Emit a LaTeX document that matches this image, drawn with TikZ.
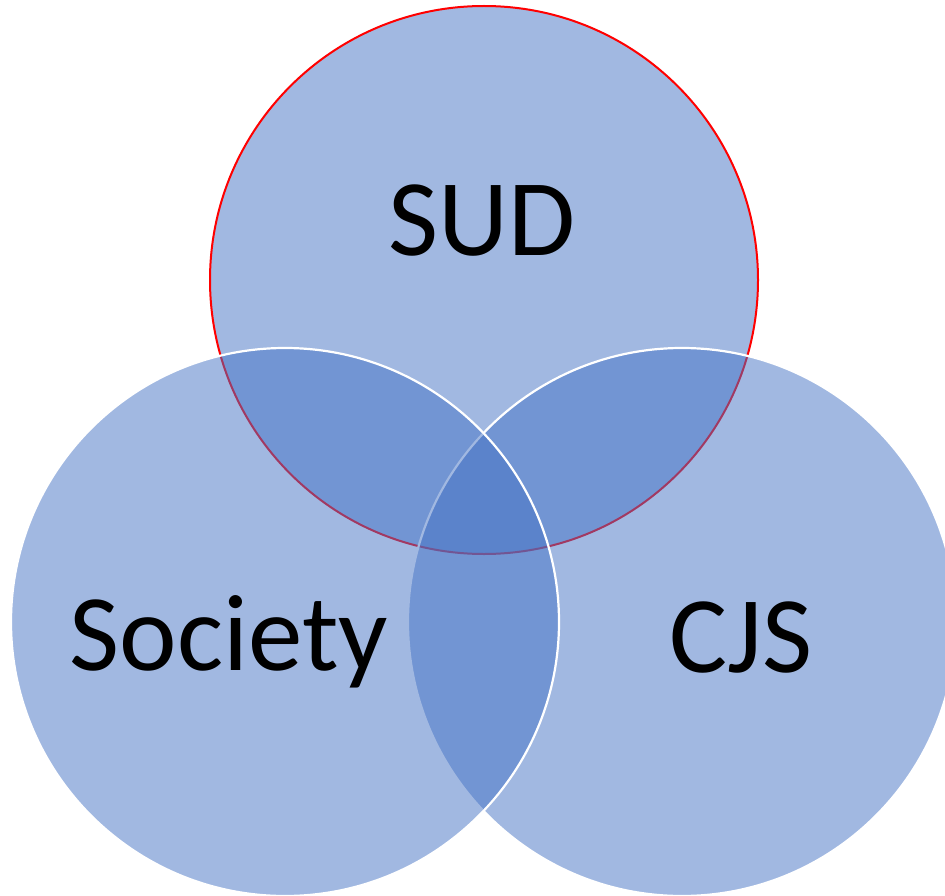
\documentclass[tikz,border=0pt]{standalone}
\usepackage{fontspec}
\setmainfont{Carlito}
\definecolor{vennblue}{HTML}{4472C4}
\begin{document}
\begin{tikzpicture}[x=1pt,y=-1pt,
  venn/.style={circle, minimum size=548pt, inner sep=0pt, outer sep=0pt,
    fill=vennblue, fill opacity=0.5, draw opacity=1, line width=2.2pt},
  lbl/.style={anchor=base, inner sep=0pt, text=black, text opacity=1,
    font=\fontsize{109}{130}\selectfont}]
\useasboundingbox (0,0) rectangle (945,896);
\clip (0,0) rectangle (945,896);
\node[venn, draw=red, line width=2pt] (sud) at (484,280) {};
\node[venn, draw=white] (cjs) at (682,622) {};
\node[venn, draw=white] (society) at (285,622) {};
\node[lbl] (sudlabel) at (482.5,255) {SUD};
\node[lbl] (societylabel) at (229,670) {Society};
\node[lbl] (cjslabel) at (741,672) {CJS};
\end{tikzpicture}
\end{document}
